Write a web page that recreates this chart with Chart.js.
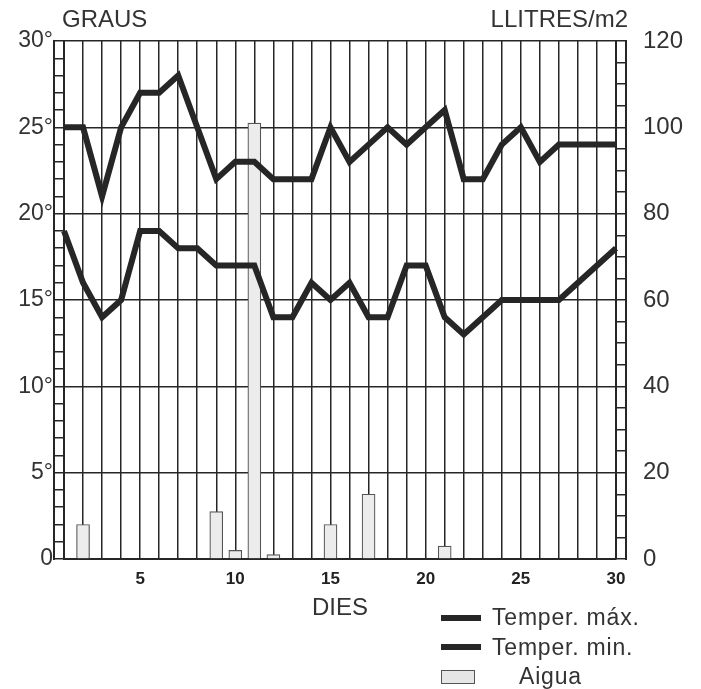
<!DOCTYPE html>
<html>
<head>
<meta charset="utf-8">
<script src="https://cdn.jsdelivr.net/npm/chart.js@4/dist/chart.umd.min.js"></script>
<style>
  body { margin: 0; background: #fff; }
  .wrap { position: relative; width: 701px; height: 689px; font-family: "Liberation Sans", Arial, sans-serif; color: #333; }
  .ytitle { position: absolute; top: 5px; font-size: 24px; }
  #legend { position: absolute; left: 441px; top: 603px; font-size: 23px; letter-spacing: 0.8px; }
  .leg-row { display: flex; align-items: center; height: 29.5px; }
  .leg-line { width: 40px; height: 6px; background: #262626; margin-right: 11px; }
  .leg-box { width: 34px; height: 14px; background: #e6e6e6; border: 1px solid #555; box-sizing: border-box; margin-right: 44px; }
</style>
</head>
<body>
<div class="wrap">
  <canvas id="climaChart" width="701" height="689"></canvas>
  <div class="ytitle" style="left:62px">GRAUS</div>
  <div class="ytitle" style="right:73px">LLITRES/m2</div>
  <div id="legend"></div>
</div>
<script>
// dies del mes
const days = [];
for (let d = 1; d <= 30; d++) days.push(String(d));

// temperatures (graus)
const tempMax = [25, 25, 21, 25, 27, 27, 28, 25, 22, 23, 23, 22, 22, 22, 25,
                 23, 24, 25, 24, 25, 26, 22, 22, 24, 25, 23, 24, 24, 24, 24];
const tempMin = [19, 16, 14, 15, 19, 19, 18, 18, 17, 17, 17, 14, 14, 16, 15,
                 16, 14, 14, 17, 17, 14, 13, 14, 15, 15, 15, 15, 16, 17, 18];
// pluja (litres/m2)
const aigua = [0, 8, 0, 0, 0, 0, 0, 0, 11, 2, 101, 1, 0, 0, 8,
               0, 15, 0, 0, 0, 3, 0, 0, 0, 0, 0, 0, 0, 0, 0];

const ink = "#262626";
const font = "'Liberation Sans', Arial, sans-serif";

const chart = new Chart(document.getElementById("climaChart"), {
  type: "bar",
  data: {
    labels: days,
    datasets: [
      {
        type: "line",
        label: "Temper. máx.",
        data: tempMax,
        yAxisID: "y",
        borderColor: ink,
        borderWidth: 6,
        pointRadius: 0,
        tension: 0,
        order: 1,
      },
      {
        type: "line",
        label: "Temper. min.",
        data: tempMin,
        yAxisID: "y",
        borderColor: ink,
        borderWidth: 6,
        pointRadius: 0,
        tension: 0,
        order: 1,
      },
      {
        label: "Aigua",
        data: aigua,
        yAxisID: "yR",
        backgroundColor: "#ececec",
        borderColor: "#555",
        borderWidth: 1.2,
        barThickness: 13,
        order: 2,
      },
    ],
  },
  options: {
    responsive: false,
    animation: false,
    layout: { padding: { top: 41, left: 0, right: 0, bottom: 66 } },
    plugins: { legend: { display: false }, tooltip: { enabled: false } },
    scales: {
      x: {
        offset: false,
        grid: { offset: false, color: ink, lineWidth: 1.5, drawTicks: false },
        border: { color: ink, width: 2 },
        ticks: {
          autoSkip: false,
          maxRotation: 0,
          padding: 10,
          color: "#222",
          font: { family: font, size: 17, weight: "bold" },
          callback: (v, i) => ((i + 1) % 5 === 0 ? days[i] : ""),
        },
        title: { display: true, text: "DIES", color: "#333", padding: 0, font: { family: font, size: 24 } },
        afterFit: (s) => { s.height = 64; },
      },
      // escala interior (regle) de graus
      y: {
        position: "left",
        weight: 0,
        min: 0,
        max: 30,
        ticks: { display: false, stepSize: 1 },
        grid: {
          color: (c) => (c.tick && c.tick.value % 5 === 0 ? ink : "rgba(0,0,0,0)"),
          tickColor: ink,
          tickLength: 10,
          lineWidth: 1.5,
        },
        border: { color: ink, width: 2 },
        afterFit: (s) => { s.width = 10; },
      },
      yT: {
        position: "left",
        weight: 1,
        min: 0,
        max: 30,
        ticks: {
          stepSize: 5,
          padding: 1,
          color: "#333",
          font: { family: font, size: 23 },
          callback: (v) => (v === 0 ? "0" : v + "°"),
        },
        grid: { drawOnChartArea: false, drawTicks: false },
        border: { color: ink, width: 2 },
        afterFit: (s) => { s.width = 54; },
      },
      // escala interior (regle) de litres
      yR: {
        position: "right",
        weight: 0,
        min: 0,
        max: 120,
        ticks: { display: false, stepSize: 5 },
        grid: { drawOnChartArea: false, tickColor: ink, tickLength: 10, lineWidth: 1.5 },
        border: { color: ink, width: 2 },
        afterFit: (s) => { s.width = 10; },
      },
      yR2: {
        position: "right",
        weight: 1,
        min: 0,
        max: 120,
        ticks: {
          stepSize: 20,
          padding: 17,
          color: "#333",
          font: { family: font, size: 24 },
        },
        grid: { drawOnChartArea: false, drawTicks: false },
        border: { color: ink, width: 2 },
        afterFit: (s) => { s.width = 75; },
      },
    },
  },
});

// llegenda
const legend = document.getElementById("legend");
chart.data.datasets.forEach((ds) => {
  const row = document.createElement("div");
  row.className = "leg-row";
  const mark = document.createElement("span");
  mark.className = ds.type === "line" ? "leg-line" : "leg-box";
  const txt = document.createElement("span");
  txt.textContent = ds.label;
  row.appendChild(mark);
  row.appendChild(txt);
  legend.appendChild(row);
});
</script>
</body>
</html>
